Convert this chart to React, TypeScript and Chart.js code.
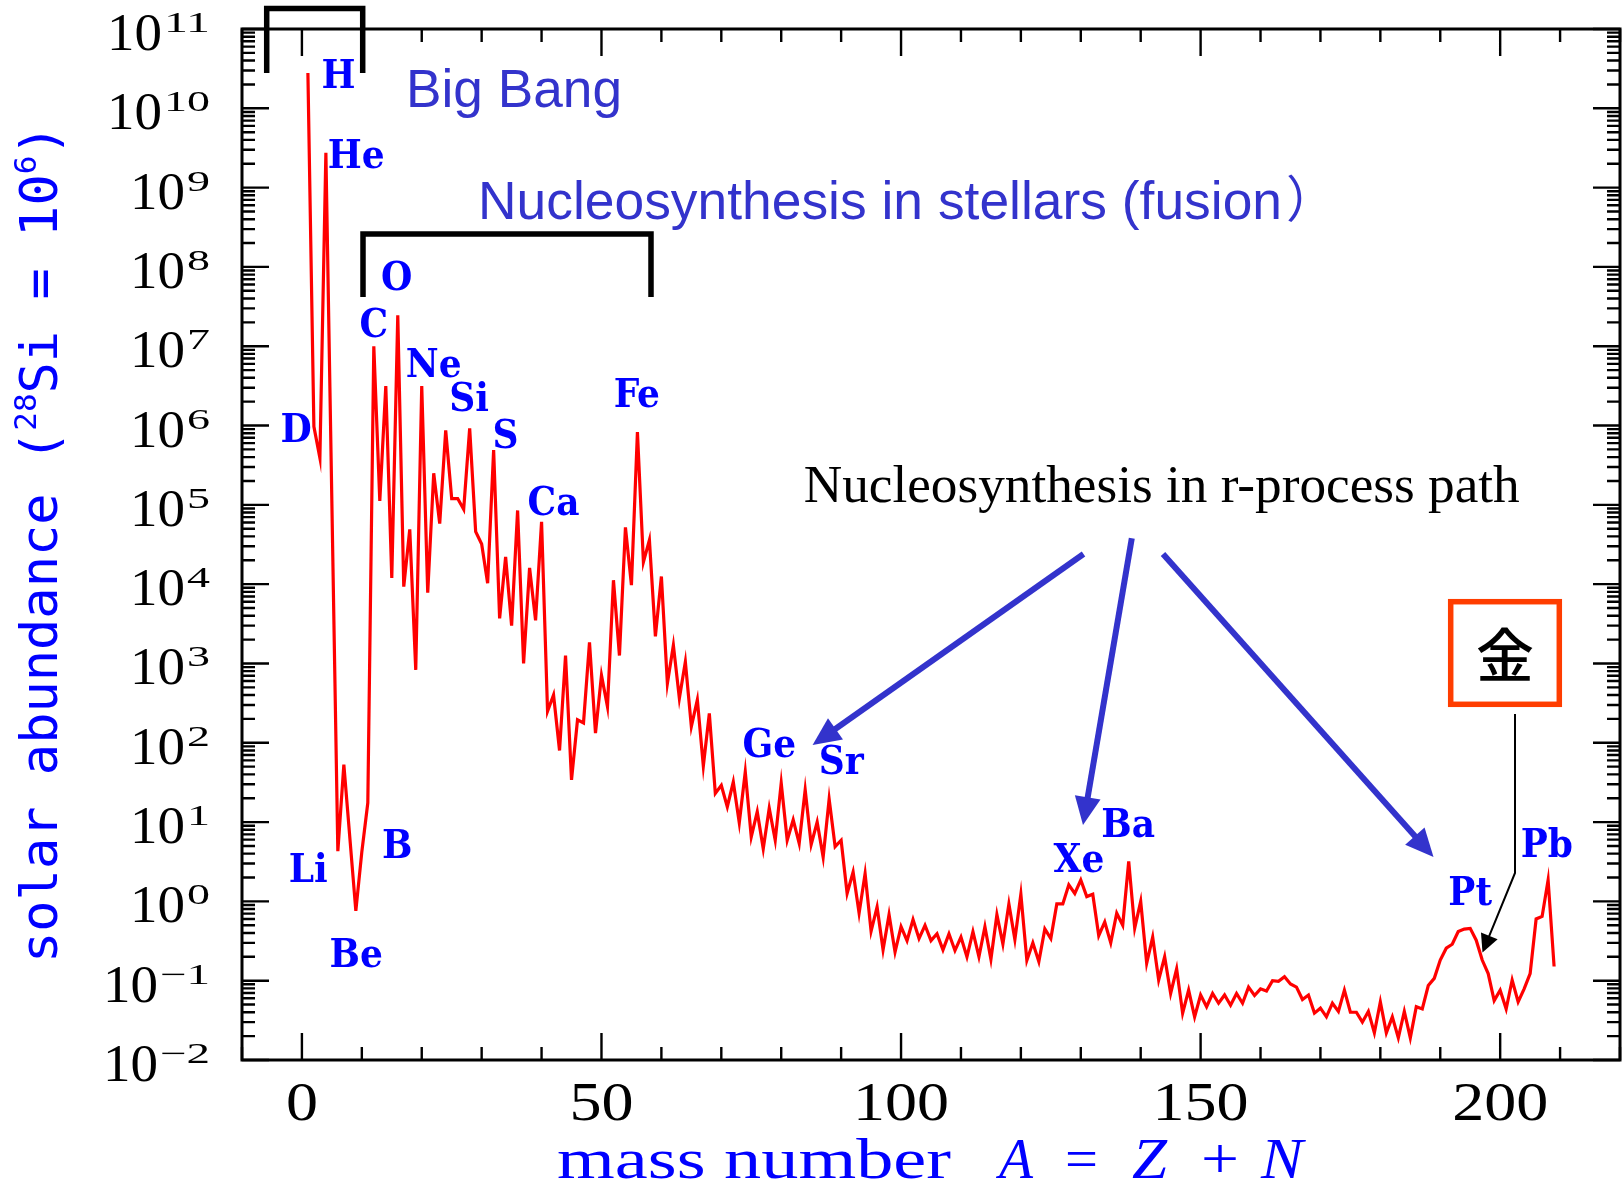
import React, { useEffect, useRef } from "react";
import { Chart, registerables } from "chart.js";

Chart.register(...registerables);

// ---- data (mass number A, solar abundance normalised to 28Si = 1e6) ----
const massNumbers: number[] = [
  1, 2, 3, 4, 6, 7, 9, 10, 11,
  12, 13, 14, 15, 16, 17, 18, 19, 20, 21,
  22, 23, 24, 25, 26, 27, 28, 29, 30, 31,
  32, 33, 34, 35, 36, 37, 38, 39, 40, 41,
  42, 43, 44, 45, 46, 47, 48, 49, 50, 51,
  52, 53, 54, 55, 56, 57, 58, 59, 60, 61,
  62, 63, 64, 65, 66, 67, 68, 69, 70, 71,
  72, 73, 74, 75, 76, 77, 78, 79, 80, 81,
  82, 83, 84, 85, 86, 87, 88, 89, 90, 91,
  92, 93, 94, 95, 96, 97, 98, 99, 100, 101,
  102, 103, 104, 105, 106, 107, 108, 109, 110, 111,
  112, 113, 114, 115, 116, 117, 118, 119, 120, 121,
  122, 123, 124, 125, 126, 127, 128, 129, 130, 131,
  132, 133, 134, 135, 136, 137, 138, 139, 140, 141,
  142, 143, 144, 145, 146, 147, 148, 149, 150, 151,
  152, 153, 154, 155, 156, 157, 158, 159, 160, 161,
  162, 163, 164, 165, 166, 167, 168, 169, 170, 171,
  172, 173, 174, 175, 176, 177, 178, 179, 180, 181,
  182, 183, 184, 185, 186, 187, 188, 189, 190, 191,
  192, 193, 194, 195, 196, 197, 198, 199, 200, 201,
  202, 203, 204, 205, 206, 207, 208, 209,
];

const abundances: number[] = [
  2.79e10, 9.7e5, 3.9e5, 2.75e9, 4.3, 53, 0.76, 4.2, 17.5,
  1.0e7, 1.12e5, 3.15e6, 1.2e4, 2.45e7, 9.3e3, 4.9e4, 830, 3.15e6, 7.8e3,
  2.5e5, 5.8e4, 8.7e5, 1.2e5, 1.2e5, 8.8e4, 9.2e5, 4.6e4, 3.2e4, 1.03e4,
  4.9e5, 3.7e3, 2.2e4, 3.0e3, 8.5e4, 1.0e3, 1.6e4, 3.5e3, 6.1e4, 250,
  400, 80, 1260, 34, 195, 178, 1850, 132, 710, 285,
  1.12e4, 1260, 5.2e4, 9.7e3, 8.3e5, 1.9e4, 3.6e4, 2200, 1.25e4, 560,
  1700, 363, 1050, 160, 347, 51, 235, 23, 29, 15.5,
  32, 9.8, 43, 6.5, 13.5, 4.6, 15, 5.9, 31, 5.9,
  10.7, 5.4, 25.5, 5.2, 10, 3.6, 19.5, 4.9, 5.9, 1.26,
  2.35, 0.71, 2.24, 0.42, 0.85, 0.245, 0.68, 0.23, 0.48, 0.32,
  0.59, 0.34, 0.5, 0.32, 0.39, 0.245, 0.39, 0.24, 0.355, 0.2,
  0.415, 0.2, 0.48, 0.186, 0.68, 0.29, 0.93, 0.33, 1.23, 0.18,
  0.3, 0.174, 0.45, 0.34, 0.93, 0.93, 1.62, 1.26, 1.86, 1.15,
  1.23, 0.37, 0.55, 0.3, 0.71, 0.5, 3.2, 0.46, 1.0, 0.166,
  0.355, 0.102, 0.2, 0.069, 0.141, 0.039, 0.076, 0.035, 0.066, 0.047,
  0.069, 0.052, 0.066, 0.049, 0.069, 0.052, 0.083, 0.065, 0.079, 0.074,
  0.1, 0.098, 0.112, 0.091, 0.083, 0.058, 0.066, 0.039, 0.045, 0.035,
  0.052, 0.041, 0.076, 0.04, 0.04, 0.03, 0.041, 0.022, 0.054, 0.022,
  0.035, 0.019, 0.041, 0.019, 0.047, 0.044, 0.087, 0.107, 0.182, 0.257,
  0.288, 0.417, 0.447, 0.457, 0.324, 0.182, 0.123, 0.056, 0.076, 0.044,
  0.102, 0.054, 0.079, 0.123, 0.6, 0.646, 1.86, 0.151,
];

const yExponents: number[] = [-2, -1, 0, 1, 2, 3, 4, 5, 6, 7, 8, 9, 10, 11];
const xTickLabels: number[] = [0, 50, 100, 150, 200];

// element labels: text, anchor mass number, anchor log10 abundance (label baseline centre)
const elementNames: string[] = ["H", "He", "D", "Li", "Be", "B", "C", "O", "Ne", "Si", "S", "Ca", "Fe", "Ge", "Sr", "Xe", "Ba", "Pt", "Pb"];
const elementAnchorA: number[] = [6.1, 9.05, -0.95, 1.05, 9.05, 15.9, 12.0, 15.8, 22.0, 27.9, 34.0, 42.0, 55.9, 78.0, 90.0, 129.7, 137.9, 195.0, 207.8];
const elementAnchorLog: number[] = [10.26, 9.25, 5.79, 0.24, -0.83, 0.55, 7.12, 7.71, 6.61, 6.18, 5.72, 4.87, 6.23, 1.82, 1.6, 0.37, 0.81, -0.05, 0.56];

const BLUE = "#0000ff";
const ANNOT_BLUE = "#3333cc";

function fitText(ctx: CanvasRenderingContext2D, text: string, x: number, y: number, width: number, font: string, color: string) {
  ctx.save();
  ctx.font = font;
  ctx.textAlign = "left";
  ctx.textBaseline = "alphabetic";
  const w = ctx.measureText(text).width;
  ctx.translate(x, y);
  ctx.scale(width / w, 1);
  ctx.fillStyle = color;
  ctx.fillText(text, 0, 0);
  ctx.restore();
}

function arrow(ctx: CanvasRenderingContext2D, pts: number[][], color: string, lw: number, headLen: number, headHalf: number) {
  const n = pts.length;
  const [tx, ty] = pts[n - 1];
  const [px, py] = pts[n - 2];
  const dx = tx - px, dy = ty - py;
  const L = Math.hypot(dx, dy);
  const ux = dx / L, uy = dy / L;
  const bx = tx - ux * headLen, by = ty - uy * headLen;
  ctx.save();
  ctx.strokeStyle = color;
  ctx.fillStyle = color;
  ctx.lineWidth = lw;
  ctx.lineJoin = "miter";
  ctx.beginPath();
  ctx.moveTo(pts[0][0], pts[0][1]);
  for (let i = 1; i < n - 1; i++) ctx.lineTo(pts[i][0], pts[i][1]);
  ctx.lineTo(bx + ux * 2, by + uy * 2);
  ctx.stroke();
  ctx.beginPath();
  ctx.moveTo(tx, ty);
  ctx.lineTo(bx - uy * headHalf, by + ux * headHalf);
  ctx.lineTo(bx + uy * headHalf, by - ux * headHalf);
  ctx.closePath();
  ctx.fill();
  ctx.restore();
}

const decorPlugin = {
  id: "decor",
  afterDraw(chart: any) {
    const ctx: CanvasRenderingContext2D = chart.ctx;
    const xs = chart.scales.x;
    const ys = chart.scales.y;
    const { left, right, top, bottom } = chart.chartArea;
    ctx.save();

    // frame
    ctx.strokeStyle = "#000";
    ctx.lineWidth = 3;
    ctx.strokeRect(left, top, right - left, bottom - top);

    // ticks
    ctx.lineWidth = 2.4;
    ctx.beginPath();
    for (let v = -10; v <= 220; v += 10) {
      const px = xs.getPixelForValue(v);
      const len = v % 50 === 0 ? 27 : 13;
      ctx.moveTo(px, bottom);
      ctx.lineTo(px, bottom - len);
      ctx.moveTo(px, top);
      ctx.lineTo(px, top + len);
    }
    for (const e of yExponents) {
      for (let m = 1; m <= 9; m++) {
        if (e === 11 && m > 1) break;
        const py = ys.getPixelForValue(m * Math.pow(10, e));
        const len = m === 1 ? 27 : 13;
        ctx.moveTo(left, py);
        ctx.lineTo(left + len, py);
        ctx.moveTo(right, py);
        ctx.lineTo(right - len, py);
      }
    }
    ctx.stroke();

    // y tick labels 10^e
    for (const e of yExponents) {
      const py = ys.getPixelForValue(Math.pow(10, e));
      const expStr = e < 0 ? "\u2212" + String(-e) : String(e);
      const expW = e < 0 ? 50 : 23 * expStr.length;
      const expX = 210 - expW;
      fitText(ctx, expStr, expX, py + 3, expW, '29px "Liberation Serif"', "#000");
      fitText(ctx, "10", expX - 57, py + 21, 55, '53px "Liberation Serif"', "#000");
    }

    // x tick labels
    for (const v of xTickLabels) {
      const px = xs.getPixelForValue(v);
      const s = String(v);
      const w = 32 * s.length;
      fitText(ctx, s, px - w / 2, 1120, w, '55px "Liberation Serif"', "#000");
    }

    // x axis title
    const tf = '58px "Liberation Serif"';
    const tfi = 'italic 58px "Liberation Serif"';
    fitText(ctx, "mass number", 557, 1178, 394, tf, BLUE);
    fitText(ctx, "A", 999, 1178, 34, tfi, BLUE);
    fitText(ctx, "=", 1065, 1178, 33, tf, BLUE);
    fitText(ctx, "Z", 1132, 1178, 35, tfi, BLUE);
    fitText(ctx, "+", 1201, 1178, 38, tf, BLUE);
    fitText(ctx, "N", 1261, 1178, 42, tfi, BLUE);

    // y axis title (rotated)
    ctx.save();
    ctx.translate(57, 963);
    ctx.rotate(-Math.PI / 2);
    ctx.fillStyle = BLUE;
    ctx.textAlign = "left";
    let cx = 0;
    const runs: [string, string, number][] = [
      ["solar abundance (", '52px "DejaVu Sans Mono"', 0],
      ["28", '31px "DejaVu Sans Mono"', -21],
      ["Si = 10", '52px "DejaVu Sans Mono"', 0],
      ["6", '31px "DejaVu Sans Mono"', -21],
      [")", '52px "DejaVu Sans Mono"', 0],
    ];
    for (const [t, f, dy] of runs) {
      ctx.font = f;
      ctx.fillText(t, cx, dy);
      cx += ctx.measureText(t).width;
    }
    ctx.restore();

    // element labels
    ctx.fillStyle = BLUE;
    ctx.textAlign = "center";
    ctx.textBaseline = "alphabetic";
    ctx.font = 'bold 40px "DejaVu Serif Condensed", "DejaVu Serif"';
    elementNames.forEach((name, i) => {
      const px = xs.getPixelForValue(elementAnchorA[i]);
      const py = ys.getPixelForValue(Math.pow(10, elementAnchorLog[i]));
      ctx.fillText(name, px, py);
    });

    // brackets
    ctx.strokeStyle = "#000";
    ctx.lineWidth = 5.5;
    ctx.lineJoin = "miter";
    ctx.lineCap = "butt";
    ctx.beginPath();
    ctx.moveTo(266.7, 73);
    ctx.lineTo(266.7, 8.5);
    ctx.lineTo(362.7, 8.5);
    ctx.lineTo(362.7, 73);
    ctx.stroke();
    ctx.beginPath();
    ctx.moveTo(363, 297);
    ctx.lineTo(363, 234);
    ctx.lineTo(651, 234);
    ctx.lineTo(651, 297);
    ctx.stroke();

    // annotation texts
    fitText(ctx, "Big Bang", 406, 107, 216, '53px "Liberation Sans"', ANNOT_BLUE);
    fitText(ctx, "Nucleosynthesis in stellars (fusion", 478, 219, 804, '53px "Liberation Sans"', ANNOT_BLUE);
    ctx.font = '50px "Noto Sans CJK JP"';
    ctx.fillStyle = ANNOT_BLUE;
    ctx.textAlign = "left";
    ctx.fillText("\uff09", 1286, 217);
    fitText(ctx, "Nucleosynthesis in r-process path", 803.7, 501.7, 716, '53px "Liberation Serif"', "#000");

    // blue arrows
    arrow(ctx, [[1083.5, 554], [812.6, 745]], ANNOT_BLUE, 6, 28, 13);
    arrow(ctx, [[1131.8, 538.3], [1083, 825]], ANNOT_BLUE, 6, 28, 13);
    arrow(ctx, [[1163, 554], [1433.5, 857]], ANNOT_BLUE, 6, 28, 13);

    // gold box
    ctx.strokeStyle = "#ff3d00";
    ctx.lineWidth = 5.5;
    ctx.strokeRect(1450.7, 601.7, 108.6, 102.6);
    ctx.fillStyle = "#000";
    ctx.font = '500 58px "Noto Sans CJK JP"';
    ctx.textAlign = "center";
    ctx.textBaseline = "middle";
    ctx.fillText("\u91d1", 1505, 655);
    ctx.textBaseline = "alphabetic";

    // black arrow to Au
    arrow(ctx, [[1515, 714], [1515, 873], [1482.5, 952.5]], "#000", 2, 18, 9);

    ctx.restore();
  },
};

export default function App() {
  const ref = useRef<HTMLCanvasElement>(null);
  useEffect(() => {
    if (!ref.current) return;
    const chart = new Chart(ref.current, {
      type: "line",
      data: {
        datasets: [
          {
            data: massNumbers.map((a, i) => ({ x: a, y: abundances[i] })),
            borderColor: "#ff0000",
            borderWidth: 3.2,
            pointRadius: 0,
            tension: 0,
            fill: false,
          },
        ],
      },
      options: {
        responsive: false,
        animation: false,
        devicePixelRatio: 1,
        layout: { padding: { left: 242, right: 4, top: 29, bottom: 123 } },
        plugins: { legend: { display: false }, tooltip: { enabled: false } },
        scales: {
          x: { type: "linear", min: -10, max: 220, display: false },
          y: { type: "logarithmic", min: 0.01, max: 1e11, display: false },
        },
      },
      plugins: [decorPlugin],
    } as any);
    return () => chart.destroy();
  }, []);
  return (
    <div style={{ position: "absolute", left: 0, top: 0, width: 1624, height: 1183, background: "#fff" }}>
      <canvas ref={ref} width={1624} height={1183} style={{ display: "block", width: 1624, height: 1183 }} />
    </div>
  );
}
